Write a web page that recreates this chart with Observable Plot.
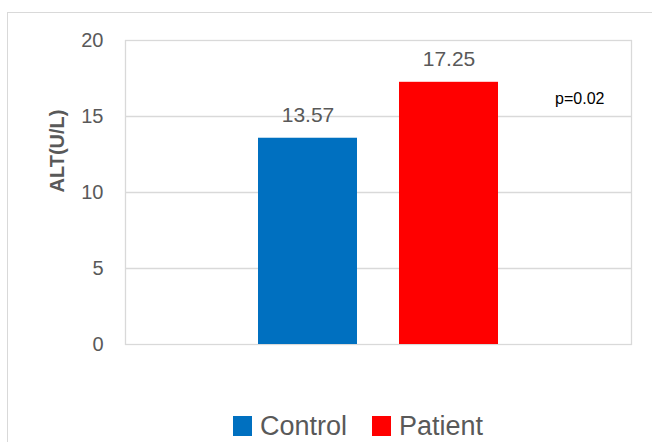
<!DOCTYPE html>
<html>
<head>
<meta charset="utf-8">
<script src="https://cdn.jsdelivr.net/npm/d3@7"></script>
<script src="https://cdn.jsdelivr.net/npm/@observablehq/plot@0.6"></script>
<style>
  html, body { margin: 0; padding: 0; background: #fff; }
  #wrap { position: relative; width: 652px; height: 442px; overflow: hidden; font-family: "Liberation Sans", Arial, sans-serif; }
  #outer { position: absolute; left: 7px; top: 12px; width: 800px; height: 600px; border: 1px solid #d9d9d9; box-sizing: border-box; pointer-events: none; }
  #chart { position: absolute; left: 0; top: 0; }
  #legend { position: absolute; left: 233px; top: 411px; height: 30px; display: flex; align-items: center; font-size: 27px; line-height: 30px; color: #595959; }
  .item { display: flex; align-items: center; margin-right: 25px; }
  .sw { width: 19px; height: 20px; margin-right: 8px; }
</style>
</head>
<body>
<div id="wrap">
  <div id="outer"></div>
  <div id="chart"></div>
  <div id="legend"></div>
</div>
<script>
const groups = ["Control", "Patient"];
const values = [13.57, 17.25];
const colors = ["#0070C0", "#FF0000"];
const yTicks = [0, 5, 10, 15, 20];
const gridTicks = [5, 10, 15];
const yLabel = "ALT(U/L)";
const pLabel = "p=0.02";

const data = groups.map((g, i) => ({group: g, value: values[i], color: colors[i]}));
const gray = "#595959";

const plot = Plot.plot({
  width: 652,
  height: 400,
  marginTop: 40,
  marginBottom: 56,
  marginLeft: 125,
  marginRight: 21,
  style: {background: "transparent", fontFamily: "'Liberation Sans', Arial, sans-serif"},
  x: {domain: groups, range: [257.5, 499], paddingInner: 0.297, paddingOuter: 0, axis: null},
  y: {domain: [0, 20], axis: null},
  marks: [
    Plot.gridY(gridTicks, {stroke: "#d9d9d9", strokeOpacity: 1, strokeWidth: 1.3}),
    Plot.frame({stroke: "#d9d9d9", strokeWidth: 1.3}),
    Plot.barY(data, {x: "group", y: "value", fill: "color"}),
    Plot.text(data, {x: "group", y: "value", text: d => d.value.toFixed(2), dy: -16, lineAnchor: "bottom", fontSize: 21, fill: gray}),
    Plot.axisY(yTicks, {tickSize: 0, tickPadding: 22, fontSize: 20, color: gray, label: null}),
    Plot.text([yLabel], {frameAnchor: "left", rotate: -90, dx: -68, fontSize: 20, fontWeight: "bold", fill: gray}),
    Plot.text([pLabel], {frameAnchor: "top-right", dx: -27, dy: 63, textAnchor: "end", lineAnchor: "bottom", fontSize: 16, fill: "#000"})
  ]
});
document.getElementById("chart").appendChild(plot);

const legend = document.getElementById("legend");
groups.forEach((g, i) => {
  const item = document.createElement("div");
  item.className = "item";
  const sw = document.createElement("div");
  sw.className = "sw";
  sw.style.background = colors[i];
  const t = document.createElement("span");
  t.textContent = g;
  item.appendChild(sw);
  item.appendChild(t);
  legend.appendChild(item);
});
</script>
</body>
</html>
